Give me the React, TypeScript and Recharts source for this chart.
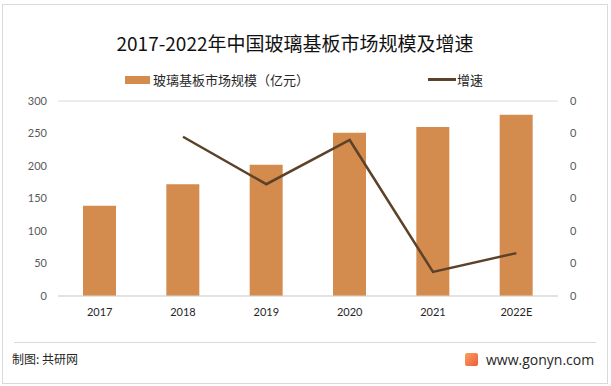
import { ComposedChart, Bar, Line, XAxis, YAxis, CartesianGrid } from 'recharts';

const years = ['2017', '2018', '2019', '2020', '2021', '2022E'];
const marketSize = [139, 172, 202, 251, 260, 279];
const growth = [null, 0.245, 0.172, 0.24, 0.037, 0.066];
const leftTicks = [0, 50, 100, 150, 200, 250, 300];
const rightTicks = [0, 0.05, 0.1, 0.15, 0.2, 0.25, 0.3];

const data = years.map((year, i) => ({ year, size: marketSize[i], rate: growth[i] }));

const BAR = '#d38b4e';
const LINE = '#5d4128';
const CJK = '"Noto Sans CJK SC", "Noto Sans", sans-serif';
const NUM = 'Lato, "Noto Sans", sans-serif';

export default function App() {
    return (
        <div
            style={{
                position: 'absolute',
                left: 0,
                top: 0,
                width: 611,
                height: 386,
                background: '#fff',
                fontFamily: CJK,
            }}
        >
            <div
                style={{
                    position: 'absolute',
                    left: 2,
                    top: 4,
                    width: 604,
                    height: 378,
                    border: '1px solid #d9d9d9',
                }}
            />
            <div
                style={{
                    position: 'absolute',
                    left: 0,
                    width: 590,
                    top: 29,
                    textAlign: 'center',
                    fontSize: 19,
                    lineHeight: '28px',
                    color: '#111',
                }}
            >
                2017-2022年中国玻璃基板市场规模及增速
            </div>
            <div style={{ position: 'absolute', top: 70, left: 125, display: 'flex', alignItems: 'center', fontSize: 13, color: '#262626' }}>
                <span style={{ display: 'inline-block', width: 25, height: 8, background: BAR, marginRight: 3 }} />
                玻璃基板市场规模（亿元）
            </div>
            <div style={{ position: 'absolute', top: 70, left: 428, display: 'flex', alignItems: 'center', fontSize: 13, color: '#262626' }}>
                <span style={{ display: 'inline-block', width: 28, height: 3, background: LINE, marginRight: 1 }} />
                增速
            </div>
            <div style={{ position: 'absolute', top: 0, left: 0 }}>
                <ComposedChart
                    width={611}
                    height={386}
                    data={data}
                    margin={{ top: 101, right: 0, bottom: 60, left: 0 }}
                >
                    <CartesianGrid vertical={false} stroke="#d9d9d9" />
                    <XAxis
                        dataKey="year"
                        height={30}
                        axisLine={{ stroke: '#d9d9d9' }}
                        tickLine={false}
                        tickMargin={6}
                        tick={{ fill: '#262626', fontSize: 11, fontFamily: NUM }}
                    />
                    <YAxis
                        yAxisId="left"
                        width={58}
                        domain={[0, 300]}
                        ticks={leftTicks}
                        axisLine={false}
                        tickLine={false}
                        tickMargin={5}
                        tick={{ fill: '#595959', fontSize: 11, fontFamily: NUM }}
                    />
                    <YAxis
                        yAxisId="right"
                        orientation="right"
                        width={53}
                        domain={[0, 0.3]}
                        ticks={rightTicks}
                        tickFormatter={(v: number) => v.toFixed(0)}
                        axisLine={false}
                        tickLine={false}
                        tickMargin={6}
                        tick={{ fill: '#595959', fontSize: 11, fontFamily: NUM, textAnchor: 'start' }}
                    />
                    <Bar yAxisId="left" dataKey="size" fill={BAR} barSize={33} isAnimationActive={false} />
                    <Line
                        yAxisId="right"
                        dataKey="rate"
                        stroke={LINE}
                        strokeWidth={2.5}
                        dot={false}
                        activeDot={false}
                        connectNulls={false}
                        isAnimationActive={false}
                    />
                </ComposedChart>
            </div>
            <div style={{ position: 'absolute', left: 14, top: 342, width: 582, borderTop: '1px solid #d9d9d9' }} />
            <div style={{ position: 'absolute', left: 12, top: 350, fontSize: 12, color: '#262626' }}>制图: 共研网</div>
            <div style={{ position: 'absolute', left: 465, top: 350, display: 'flex', alignItems: 'center', fontSize: 14, color: '#262626', fontFamily: '"Open Sans", sans-serif' }}>
                <span
                    style={{
                        display: 'inline-block',
                        width: 13,
                        height: 13,
                        background: 'linear-gradient(135deg, #f7a35c, #ef5a3c)',
                        borderRadius: 2,
                        marginRight: 8,
                    }}
                />
                www.gonyn.com
            </div>
        </div>
    );
}
